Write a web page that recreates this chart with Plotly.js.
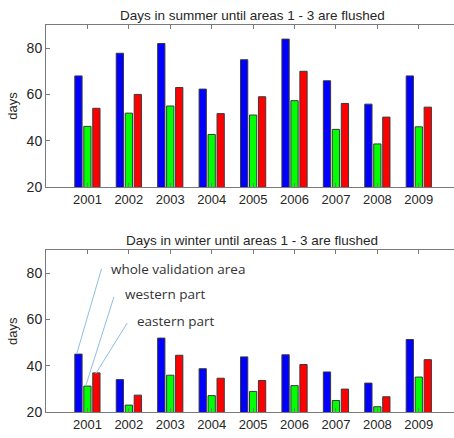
<!DOCTYPE html>
<html><head><meta charset="utf-8">
<script src="https://cdn.plot.ly/plotly-3.0.1.min.js"></script>
<style>html,body{margin:0;padding:0;background:#fff}#chart{width:454px;height:438px}</style>
</head><body><div id="chart"></div>
<script>
const years = ['2001','2002','2003','2004','2005','2006','2007','2008','2009'];
const xpos = [1,2,3,4,5,6,7,8,9];
const seriesNames = ['whole validation area','western part','eastern part'];
const summerWhole = [68, 77.8, 82, 62.3, 75, 83.9, 65.9, 55.8, 68];
const summerWestern = [46.2, 51.9, 55, 42.7, 51.1, 57.3, 44.9, 38.6, 46];
const summerEastern = [54, 60, 63, 51.7, 59, 70, 56.1, 50.2, 54.5];
const winterWhole = [45.1, 34.1, 52, 38.8, 43.9, 44.8, 37.4, 32.6, 51.4];
const winterWestern = [31.3, 23.1, 36, 27.2, 29, 31.5, 25.1, 22.4, 35.2];
const winterEastern = [37, 27.4, 44.6, 34.7, 33.7, 40.6, 30, 26.7, 42.7];
const colors = ['#0000ff','#00ff00','#ff0000'];

function bars(vals, i, ax){
  return {type:'bar', x:xpos, y:vals, name:seriesNames[i], xaxis:'x'+ax, yaxis:'y'+ax,
    marker:{color:colors[i], line:{color:'#3a3a3a', width:1}}, showlegend:false, hoverinfo:'skip'};
}
const data = [
  bars(summerWhole,0,''), bars(summerWestern,1,''), bars(summerEastern,2,''),
  bars(winterWhole,0,'2'), bars(winterWestern,1,'2'), bars(winterEastern,2,'2')
];

const tf = {family:'Liberation Sans, Arial, sans-serif', size:13, color:'#262626'};
function xax(anchor){
  return {range:[0,9.85], tickvals:xpos, ticktext:years, showline:true, mirror:'ticks',
    linecolor:'#7a7a7a', linewidth:1, ticks:'inside', ticklen:4, tickcolor:'#7a7a7a',
    showgrid:false, zeroline:false, tickfont:tf, anchor:anchor, fixedrange:true};
}
function yax(dom, anchor){
  return {domain:dom, range:[20,90], tickvals:[20,40,60,80], showline:true, mirror:false,
    linecolor:'#7a7a7a', linewidth:1, ticks:'inside', ticklen:4, tickcolor:'#7a7a7a',
    showgrid:false, zeroline:false, tickfont:Object.assign({},tf,{size:14}), anchor:anchor,
    title:{text:'days', font:tf, standoff:6}};
}
const titleFont = Object.assign({}, tf, {size:13.5});
const annFont = {family:'Open Sans, Noto Sans, sans-serif', size:13.5, color:'#333'};
const layout = {
  width:454, height:438, margin:{l:46, r:0, t:0, b:0}, paper_bgcolor:'#fff', plot_bgcolor:'#fff',
  barmode:'group', bargap:0.35, bargroupgap:0.19,
  xaxis: xax('y'), yaxis: yax([0.5731,0.9429],'x'),
  xaxis2: xax('y2'), yaxis2: yax([0.0587,0.4292],'x2'),
  annotations:[
    {text:'Days in summer until areas 1 - 3 are flushed', xref:'paper', yref:'paper', x:0.505, y:0.965, xanchor:'center', yanchor:'middle', showarrow:false, font:titleFont},
    {text:'Days in winter until areas 1 - 3 are flushed', xref:'paper', yref:'paper', x:0.505, y:0.452, xanchor:'center', yanchor:'middle', showarrow:false, font:titleFont},
    {text:seriesNames[0], xref:'x2', yref:'y2', x:1.52, y:81.9, xanchor:'left', yanchor:'middle', showarrow:false, font:annFont},
    {text:seriesNames[1], xref:'x2', yref:'y2', x:1.86, y:71.2, xanchor:'left', yanchor:'middle', showarrow:false, font:annFont},
    {text:seriesNames[2], xref:'x2', yref:'y2', x:2.16, y:59.5, xanchor:'left', yanchor:'middle', showarrow:false, font:annFont}
  ],
  shapes:[
    {type:'line', xref:'x2', yref:'y2', x0:1.34, y0:81.9, x1:0.74, y1:45.1, line:{color:'#8fbfe0', width:1}},
    {type:'line', xref:'x2', yref:'y2', x0:1.64, y0:69.8, x1:0.96, y1:31.4, line:{color:'#8fbfe0', width:1}},
    {type:'line', xref:'x2', yref:'y2', x0:1.96, y0:58.5, x1:1.20, y1:36.6, line:{color:'#8fbfe0', width:1}}
  ]
};
Plotly.newPlot('chart', data, layout, {staticPlot:true});
</script></body></html>
